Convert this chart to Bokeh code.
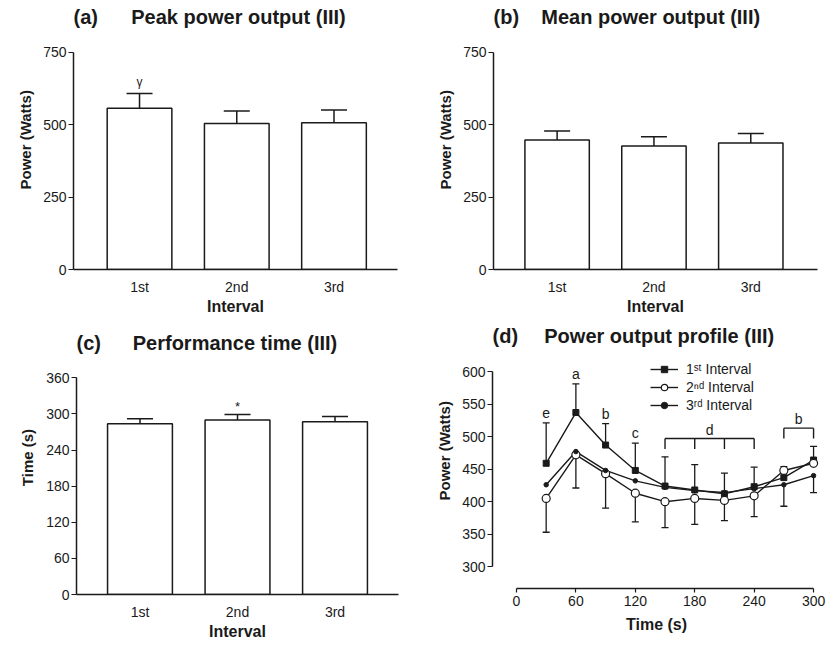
from bokeh.plotting import figure
from bokeh.models import (ColumnDataSource, Whisker, TeeHead, FixedTicker,
                          Legend, LegendItem, Range1d, Label, Title)
from bokeh.layouts import column, row
from bokeh.embed import file_html
from bokeh.resources import INLINE
from bokeh.core.properties import value

FONT = "Liberation Sans"
INK = "#1a1a1a"
NB = "\u00a0"
THIN = "\u2009"

# ---------------- data ----------------
intervals = ["1st", "2nd", "3rd"]

peak_mean = [557, 505, 507]
peak_sd = [51, 43, 44]

meanpow_mean = [448, 427, 437]
meanpow_sd = [31, 32, 33]

perf_time_mean = [284, 290, 287]
perf_time_sd = [8, 9, 9]

power_ticks = [0, 250, 500, 750]
time_ticks = [0, 60, 120, 180, 240, 300, 360]

profile_time = [30, 60, 90, 120, 150, 180, 210, 240, 270, 300]
profile_1st = [459, 537, 487, 448, 424, 418, 412, 423, 437, 464]
profile_2nd = [405, 472, 443, 413, 400, 405, 402, 409, 448, 459]
profile_3rd = [426, 477, 448, 432, 422, 417, 414, 420, 426, 440]
profile_err_upper = [521, 581, 520, 490, 469, 457, 444, 453, 454, 485]
profile_err_lower = [353, 421, 390, 369, 360, 365, 371, 377, 393, 414]
profile_letters = ["e", "a", "b", "c"]
bracket_d_times = [150, 180, 210, 240]
bracket_b_times = [270, 300]
profile_xticks = [0, 60, 120, 180, 240, 300]
profile_yticks = [300, 350, 400, 450, 500, 550, 600]


def style_fig(p):
    p.outline_line_color = None
    p.xgrid.visible = False
    p.ygrid.visible = False
    p.background_fill_color = "white"
    p.border_fill_color = "white"
    for ax in (p.xaxis[0], p.yaxis[0]):
        ax.axis_line_color = INK
        ax.axis_line_width = 1.5
        ax.major_tick_line_color = INK
        ax.major_tick_line_width = 1.2
        ax.minor_tick_line_color = None
        ax.major_label_text_font = FONT
        ax.major_label_text_font_size = "14px"
        ax.major_label_text_color = INK
        ax.axis_label_text_font = FONT
        ax.axis_label_text_font_style = "bold"
        ax.axis_label_text_color = INK
    p.yaxis[0].axis_label_text_font_size = "15px"
    p.xaxis[0].axis_label_text_font_size = "16px"


def add_title(p, text, sy):
    # title drawn inside the (upward-extended) frame, above the bounded axis
    p.add_layout(Label(x=0, y=sy, x_units="screen", y_units="screen", text=text,
                       text_font=FONT, text_font_size="20px", text_font_style="bold",
                       text_color=INK, text_align="left", text_baseline="middle"))


def add_side_ylabel(p, text, offset):
    # rotated y-axis title placed in the left panel, measured up from the frame bottom
    p.add_layout(Title(text=text, align="left", offset=offset, standoff=13,
                       text_font=FONT, text_font_size="15px", text_font_style="bold",
                       text_color=INK), "left")


def bar_panel(title, ylabel, means, sds, yend, ybound, yticks, fw, fh, left, right, top, bottom,
              xr, t_sy, ylab_offset):
    p = figure(frame_width=fw, frame_height=fh, min_border_left=left, min_border_right=right,
               min_border_top=top, min_border_bottom=bottom,
               x_range=Range1d(*xr), y_range=Range1d(0, yend),
               output_backend="svg", toolbar_location=None)
    style_fig(p)
    xs = list(range(1, len(intervals) + 1))
    p.vbar(x=xs, top=means, width=0.665, bottom=0, fill_color="white",
           line_color=INK, line_width=1.5)
    src = ColumnDataSource(dict(x=xs, lo=means, hi=[m + s for m, s in zip(means, sds)]))
    p.add_layout(Whisker(base="x", upper="hi", lower="lo", source=src, dimension="height",
                         line_color=INK, line_width=1.5,
                         upper_head=TeeHead(size=26, line_color=INK, line_width=1.5),
                         lower_head=None))
    ya = p.yaxis[0]
    ya.ticker = FixedTicker(ticks=yticks)
    ya.bounds = (0, ybound)
    ya.major_tick_out = 5
    ya.major_tick_in = 0
    ya.major_label_standoff = 2
    if ylab_offset is None:
        ya.axis_label = ylabel
        ya.axis_label_standoff = 7
    else:
        add_side_ylabel(p, ylabel, ylab_offset)
    xa = p.xaxis[0]
    xa.ticker = FixedTicker(ticks=xs)
    xa.major_label_overrides = {x: lab for x, lab in zip(xs, intervals)}
    xa.major_tick_line_color = None
    xa.major_tick_out = 0
    xa.major_tick_in = 0
    xa.major_label_standoff = 9
    xa.axis_label = "Interval"
    xa.axis_label_standoff = 0
    add_title(p, title, t_sy)
    return p, xs


# (a) Peak power
pa, xs = bar_panel("(a)" + NB * 6 + "Peak power output (III)", "Power (Watts)",
                   peak_mean, peak_sd, 922.8, 750, power_ticks,
                   324, 267, 73, 23, 2, 49, (0.321, 3.653), 253, 80)
pa.text(x=[xs[0]], y=[peak_mean[0] + peak_sd[0]], text=["\u03b3"], text_font=value(FONT),
        text_font_size="12px", text_color=INK, text_align="center", text_baseline="middle",
        y_offset=-12)

# (b) Mean power
pb, _ = bar_panel("(b)" + NB * 4 + "Mean power output (III)", "Power (Watts)",
                  meanpow_mean, meanpow_sd, 922.8, 750, power_ticks,
                  324, 267, 73, 18, 2, 49, (0.343, 3.689), 253, 80)

# (c) Performance time
pc, xs = bar_panel("(c)" + NB * 5 + THIN + "Performance time (III)", "Time (s)",
                   perf_time_mean, perf_time_sd, 455.4, 360, time_ticks,
                   322, 274, 76, 22, 2, 52, (0.349, 3.651), 252, None)
pc.text(x=[xs[1]], y=[perf_time_mean[1] + perf_time_sd[1]], text=["*"], text_font=value(FONT),
        text_font_size="13px", text_color=INK, text_align="center", text_baseline="middle",
        y_offset=-8)

# (d) Power output profile
pd = figure(frame_width=328, frame_height=268, min_border_left=72, min_border_right=15,
            min_border_top=2, min_border_bottom=58,
            x_range=Range1d(-24.2, 307), y_range=Range1d(266.6, 678.4),
            output_backend="svg", toolbar_location=None)
style_fig(pd)
xa = pd.xaxis[0]
xa.ticker = FixedTicker(ticks=profile_xticks)
xa.bounds = (profile_xticks[0], profile_xticks[-1])
xa.major_tick_out = 4
xa.major_tick_in = 0
xa.major_label_standoff = 3
xa.axis_label = "Time (s)"
xa.axis_label_standoff = 7
ya = pd.yaxis[0]
ya.ticker = FixedTicker(ticks=profile_yticks)
ya.bounds = (profile_yticks[0], profile_yticks[-1])
ya.major_tick_out = 5
ya.major_tick_in = 0
ya.major_label_standoff = 2
add_side_ylabel(pd, "Power (Watts)", 88)

top_vals = [max(a, b, c) for a, b, c in zip(profile_1st, profile_2nd, profile_3rd)]
low_vals = [min(a, b, c) for a, b, c in zip(profile_1st, profile_2nd, profile_3rd)]
src_up = ColumnDataSource(dict(t=profile_time, lo=top_vals, hi=profile_err_upper))
src_dn = ColumnDataSource(dict(t=profile_time, lo=profile_err_lower, hi=low_vals))
pd.add_layout(Whisker(base="t", upper="hi", lower="lo", source=src_up, dimension="height",
                      line_color=INK, line_width=1.3,
                      upper_head=TeeHead(size=7, line_color=INK, line_width=1.3), lower_head=None))
pd.add_layout(Whisker(base="t", upper="hi", lower="lo", source=src_dn, dimension="height",
                      line_color=INK, line_width=1.3,
                      lower_head=TeeHead(size=7, line_color=INK, line_width=1.3), upper_head=None))

l1 = pd.line(profile_time, profile_1st, line_color=INK, line_width=1.4)
l2 = pd.line(profile_time, profile_2nd, line_color=INK, line_width=1.4)
l3 = pd.line(profile_time, profile_3rd, line_color=INK, line_width=1.4)
m1 = pd.scatter(profile_time, profile_1st, marker="square", size=6, fill_color=INK, line_color=INK)
m2 = pd.scatter(profile_time, profile_2nd, marker="circle", size=8, fill_color="white",
                line_color=INK, line_width=1.2)
m3 = pd.scatter(profile_time, profile_3rd, marker="circle", size=4.5, fill_color=INK, line_color=INK)

# significance letters above the error caps
n_let = len(profile_letters)
pd.text(x=profile_time[:n_let], y=profile_err_upper[:n_let], text=profile_letters,
        text_font=value(FONT), text_font_size="14px", text_color=INK,
        text_align="center", text_baseline="middle", y_offset=-10)


def bracket(times, letter):
    idx = [profile_time.index(t) for t in times]
    base = max(profile_err_upper[i] for i in idx) + 12
    topv = base + 16
    for t in times:
        pd.line([t, t], [base, topv], line_color=INK, line_width=1.4)
    pd.line([times[0], times[-1]], [topv, topv], line_color=INK, line_width=1.4)
    pd.text(x=[(times[0] + times[-1]) / 2], y=[topv], text=[letter], text_font=value(FONT),
            text_font_size="14px", text_color=INK, text_align="center",
            text_baseline="middle", y_offset=-9)


bracket(bracket_d_times, "d")
bracket(bracket_b_times, "b")

legend = Legend(items=[LegendItem(label="1\u02e2\u1d57 Interval", renderers=[l1, m1]),
                       LegendItem(label="2\u207f\u1d48 Interval", renderers=[l2, m2]),
                       LegendItem(label="3\u02b3\u1d48 Interval", renderers=[l3, m3])],
                location=(158, 175), background_fill_alpha=0, border_line_color=None,
                label_text_font=FONT, label_text_font_size="14px", label_text_color=INK,
                glyph_width=28, glyph_height=16, label_height=16, label_standoff=8,
                spacing=2, padding=0, margin=0)
pd.add_layout(legend)

add_title(pd, "(d)" + NB * 4 + THIN + "Power output profile (III)", 253)

layout = column(row(pa, pb), row(pc, pd))
open("out.html", "w").write(file_html(layout, INLINE))
